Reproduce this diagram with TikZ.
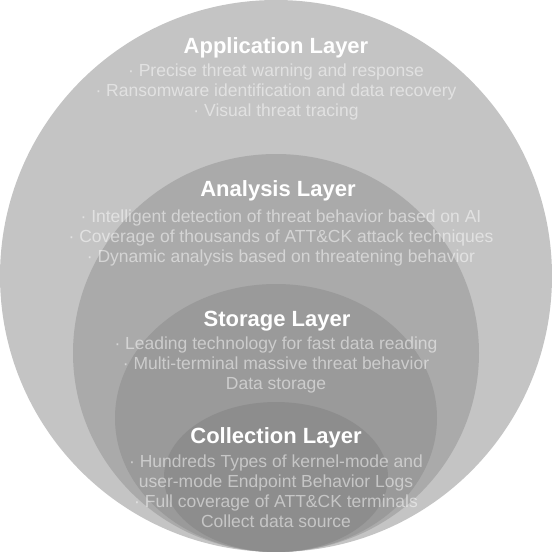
\documentclass[tikz,border=0pt]{standalone}
\usepackage{fontspec}
\setmainfont{Liberation Sans}
\begin{document}
\begin{tikzpicture}[x=1pt,y=-1pt,
  ring/.style={draw=none},
  ttl/.style={text=white,font=\fontsize{22}{24}\selectfont\bfseries,inner sep=0pt,anchor=base},
  body/.style={text=white,text opacity=0.5,font=\fontsize{17.5}{20}\selectfont,align=center,inner sep=0pt,anchor=base}]
\useasboundingbox (0,0) rectangle (552,552);
\fill[ring,color={rgb,255:red,196;green,196;blue,196}] (276,276) circle[radius=276];
\fill[ring,color={rgb,255:red,170;green,170;blue,170}] (276,353) ellipse[x radius=203,y radius=199];
\fill[ring,color={rgb,255:red,154;green,154;blue,154}] (276,418) ellipse[x radius=161,y radius=134];
\fill[ring,color={rgb,255:red,141;green,141;blue,141}] (276,477) ellipse[x radius=112,y radius=75];
\node[ttl] (appT) at (276,53) {Application Layer};
\node[body] (appB) at (276,116) {· Precise threat warning and response\\· Ransomware identification and data recovery\\· Visual threat tracing};
\node[ttl] (anaT) at (278,196) {Analysis Layer};
\node[body] (anaB) at (281,262) {· Intelligent detection of threat behavior based on AI\\· Coverage of thousands of ATT\&CK attack techniques\\· Dynamic analysis based on threatening behavior};
\node[ttl] (stoT) at (277,326) {Storage Layer};
\node[body] (stoB) at (276,389) {· Leading technology for fast data reading\\· Multi-terminal massive threat behavior\\Data storage};
\node[ttl] (colT) at (276,443) {Collection Layer};
\node[body] (colB) at (276,527) {· Hundreds Types of kernel-mode and\\user-mode Endpoint Behavior Logs\\· Full coverage of ATT\&CK terminals\\Collect data source};
\end{tikzpicture}
\end{document}
